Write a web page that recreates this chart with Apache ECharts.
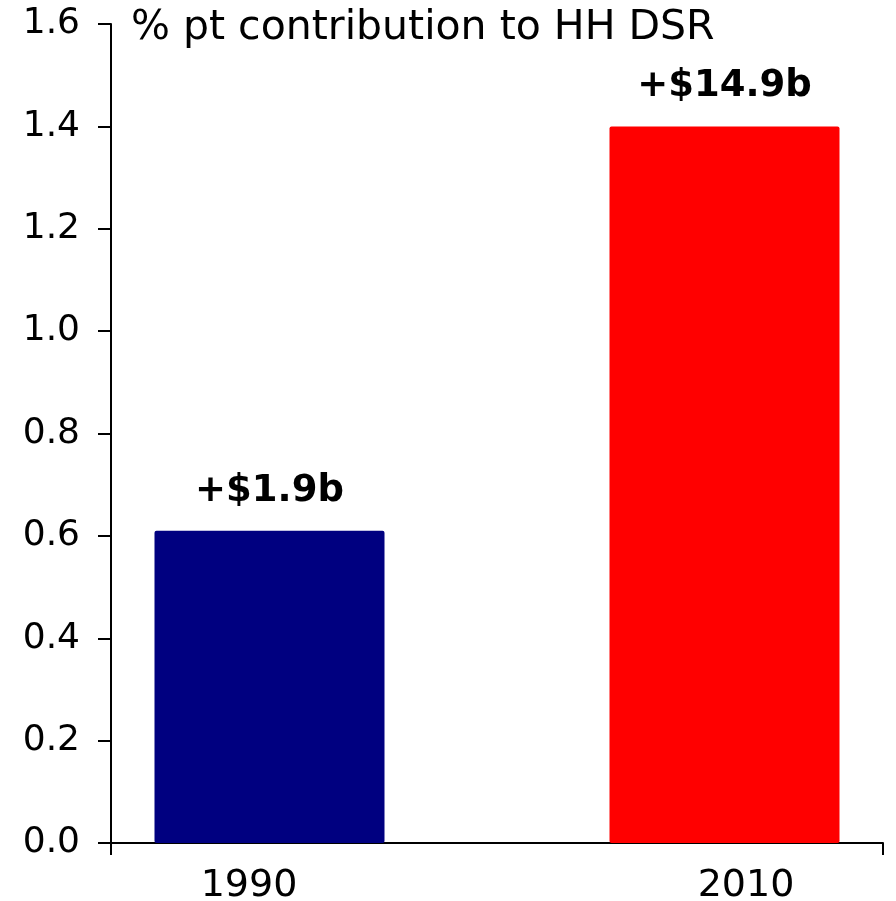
<!DOCTYPE html>
<html>
<head>
<meta charset="utf-8">
<script src="https://cdn.jsdelivr.net/npm/echarts@6/dist/echarts.min.js"></script>
<style>
  html, body { margin: 0; padding: 0; background: #fff; }
  #chart { width: 896px; height: 901px; }
</style>
</head>
<body>
<div id="chart"></div>
<script>
// Household debt-servicing ratio contribution by year
const years = ['1990', '2010'];
const contribution = [0.61, 1.4];          // % pt contribution to HH DSR
const amountLabels = ['+$1.9b', '+$14.9b'];
const barColors = ['#000080', '#ff0000'];
const yTicks = { min: 0, max: 1.6, step: 0.2 };

const FONT = 'DejaVu Sans';

// One series per bar so each bar can sit off-centre within its category
const series = years.map((y, i) => ({
  type: 'bar',
  name: y,
  barWidth: 230,
  barGap: '-70%',
  data: years.map((_, j) => (j === i ? contribution[j] : null)),
  itemStyle: { color: barColors[i], borderRadius: 2 },
  label: {
    show: true,
    position: 'top',
    distance: 21,
    formatter: () => amountLabels[i],
    color: '#000',
    fontFamily: FONT,
    fontWeight: 'bold',
    fontSize: 37
  }
}));

const chart = echarts.init(document.getElementById('chart'));
chart.setOption({
  animation: false,
  title: {
    text: '% pt contribution to HH DSR',
    left: 126,
    top: 3,
    textStyle: { fontFamily: FONT, fontWeight: 'normal', fontSize: 41, color: '#000' }
  },
  grid: { left: 111, right: 13, top: 24, bottom: 58, outerBoundsMode: 'none', containLabel: false },
  xAxis: {
    type: 'category',
    data: [
      { value: years[0], textStyle: { padding: [0, 110, 0, 0] } },
      { value: years[1], textStyle: { padding: [0, 0, 0, 112] } }
    ],
    axisLine: { lineStyle: { color: '#000', width: 2 } },
    axisTick: {
      show: true,
      length: 12,
      interval: (idx) => idx === 0,
      lineStyle: { color: '#000', width: 2 }
    },
    axisLabel: { color: '#000', fontFamily: FONT, fontSize: 38, margin: 24 }
  },
  yAxis: {
    type: 'value',
    min: yTicks.min,
    max: yTicks.max,
    interval: yTicks.step,
    splitLine: { show: false },
    axisLine: { show: true, lineStyle: { color: '#000', width: 2 } },
    axisTick: { show: true, length: 13, lineStyle: { color: '#000', width: 2 } },
    axisLabel: {
      color: '#000',
      fontFamily: FONT,
      fontSize: 36,
      margin: 31,
      formatter: (v) => v.toFixed(1)
    }
  },
  series: series
});
</script>
</body>
</html>
